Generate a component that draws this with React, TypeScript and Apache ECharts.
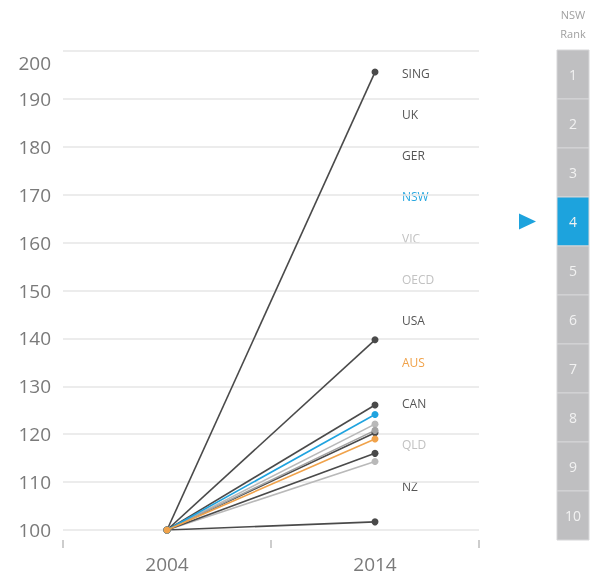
import React, { useEffect, useRef } from "react";
import * as echarts from "echarts";

const years = ["2004", "2014"];
const yTicks = { min: 100, max: 200, step: 10 };

const names = ["SING", "UK", "GER", "NSW", "VIC", "OECD", "USA", "AUS", "CAN", "QLD", "NZ"];
const start2004 = [100, 100, 100, 100, 100, 100, 100, 100, 100, 100, 100];
const end2014 = [195.6, 101.7, 120.3, 124.1, 122.1, 120.8, 139.7, 119.0, 126.1, 114.3, 116.0];
const kinds = ["dark", "dark", "dark", "nsw", "light", "mid", "dark", "aus", "dark", "light", "dark"];

const rankLabels = ["1", "2", "3", "4", "5", "6", "7", "8", "9", "10"];
const nswRank = 4;

const lineColor: Record<string, string> = {
  dark: "#4a4a4a",
  light: "#b9b9b9",
  mid: "#a3a3a3",
  nsw: "#1fa3df",
  aus: "#f0a24a",
};
const labelColor: Record<string, string> = {
  dark: "#555555",
  light: "#c2c2c2",
  mid: "#c2c2c2",
  nsw: "#2aa8e0",
  aus: "#f0a24a",
};

const FONT = "'Open Sans', 'Noto Sans', sans-serif";

export default function App() {
  const ref = useRef<HTMLDivElement>(null);
  useEffect(() => {
    if (!ref.current) return;
    const chart = echarts.init(ref.current, undefined, { renderer: "svg" });

    const order = names.map((_, i) => i).filter((i) => kinds[i] !== "aus");
    order.push(kinds.indexOf("aus"));

    const series = order.map((i) => ({
      type: "line",
      name: names[i],
      data: [start2004[i], end2014[i]],
      symbol: "circle",
      symbolSize: 7,
      showSymbol: true,
      lineStyle: { color: lineColor[kinds[i]], width: 1.6 },
      itemStyle: { color: lineColor[kinds[i]] },
      z: kinds[i] === "aus" ? 5 : kinds[i] === "nsw" ? 4 : 3,
    }));

    const graphics: any[] = [];
    names.forEach((n, i) => {
      graphics.push({
        type: "text",
        x: 402,
        y: 73 + i * 41.3,
        style: { text: n, fill: labelColor[kinds[i]], font: `12px ${FONT}`, verticalAlign: "middle" },
      });
    });
    graphics.push({
      type: "text",
      x: 573,
      y: 14,
      style: { text: "NSW", fill: "#a0a0a0", font: `11px ${FONT}`, align: "center", verticalAlign: "middle" },
    });
    graphics.push({
      type: "text",
      x: 573,
      y: 33,
      style: { text: "Rank", fill: "#a0a0a0", font: `11px ${FONT}`, align: "center", verticalAlign: "middle" },
    });
    const boxTop = 50;
    const boxH = 49;
    rankLabels.forEach((r, i) => {
      const isNsw = i + 1 === nswRank;
      graphics.push({
        type: "rect",
        shape: { x: 557, y: boxTop + i * boxH, width: 32, height: boxH },
        style: { fill: isNsw ? "#1da3dd" : "#bfbfc1", stroke: "#d6d6d8", lineWidth: 1 },
      });
      graphics.push({
        type: "text",
        x: 573,
        y: boxTop + i * boxH + boxH / 2,
        style: {
          text: r,
          fill: "#f2f2f2",
          font: `14px ${FONT}`,
          align: "center",
          verticalAlign: "middle",
        },
      });
    });
    const ty = boxTop + (nswRank - 1) * boxH + boxH / 2;
    graphics.push({
      type: "polygon",
      shape: { points: [[519, ty - 8], [536, ty], [519, ty + 8]] },
      style: { fill: "#1da3dd" },
    });

    chart.setOption({
      animation: false,
      grid: { left: 63, right: 117, top: 51, bottom: 46, containLabel: false },
      xAxis: {
        type: "category",
        data: years,
        boundaryGap: true,
        offset: 10,
        axisLine: { show: false },
        axisTick: { show: true, length: 8, lineStyle: { color: "#bdbdbd", width: 1.5 } },
        axisLabel: { color: "#7a7a7a", fontSize: 19, fontFamily: FONT, margin: 14 },
        splitLine: { show: false },
      },
      yAxis: {
        type: "value",
        min: yTicks.min,
        max: yTicks.max,
        interval: yTicks.step,
        axisLine: { show: false },
        axisTick: { show: false },
        axisLabel: {
          color: "#7a7a7a",
          fontSize: 19,
          fontFamily: FONT,
          margin: 12,
          formatter: (v: number) => (v === yTicks.max ? `{t|${v}}` : `{n|${v}}`),
          rich: {
            t: { fontSize: 19, fontFamily: FONT, color: "#7a7a7a", padding: [24, 0, 0, 0] },
            n: { fontSize: 19, fontFamily: FONT, color: "#7a7a7a" },
          },
        },
        splitLine: { show: true, lineStyle: { color: "#e6e6e6", width: 1.5 } },
      },
      series,
      graphic: graphics,
    });
    return () => chart.dispose();
  }, []);
  return <div ref={ref} style={{ position: "fixed", left: 0, top: 0, width: 596, height: 576 }} />;
}
